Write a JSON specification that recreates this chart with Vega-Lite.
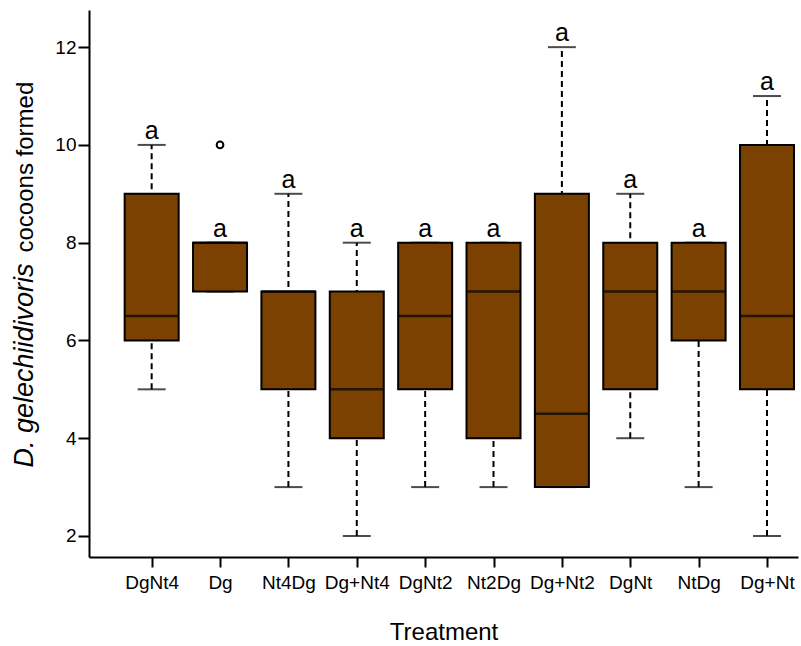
{
  "$schema": "https://vega.github.io/schema/vega-lite/v6.json",
  "autosize": {"type": "none"},
  "width": 709,
  "height": 547,
  "padding": {"left": 89, "top": 10, "right": 3, "bottom": 89},
  "background": "white",
  "config": {
    "view": {"stroke": null},
    "font": "Liberation Sans",
    "axis": {
      "grid": false,
      "domainColor": "black",
      "domainWidth": 2,
      "tickColor": "black",
      "tickWidth": 2,
      "labelColor": "black",
      "labelFont": "Liberation Sans",
      "titleFont": "Liberation Sans",
      "titleColor": "black",
      "titleFontWeight": "normal"
    }
  },
  "datasets": {
    "stats": [
      {"treatment": "DgNt4", "min": 5, "q1": 6, "median": 6.5, "q3": 9, "max": 10, "label": "a"},
      {"treatment": "Dg", "min": 7, "q1": 7, "median": 8, "q3": 8, "max": 8, "label": "a"},
      {"treatment": "Nt4Dg", "min": 3, "q1": 5, "median": 7, "q3": 7, "max": 9, "label": "a"},
      {"treatment": "Dg+Nt4", "min": 2, "q1": 4, "median": 5, "q3": 7, "max": 8, "label": "a"},
      {"treatment": "DgNt2", "min": 3, "q1": 5, "median": 6.5, "q3": 8, "max": 8, "label": "a"},
      {"treatment": "Nt2Dg", "min": 3, "q1": 4, "median": 7, "q3": 8, "max": 8, "label": "a"},
      {"treatment": "Dg+Nt2", "min": 3, "q1": 3, "median": 4.5, "q3": 9, "max": 12, "label": "a"},
      {"treatment": "DgNt", "min": 4, "q1": 5, "median": 7, "q3": 8, "max": 9, "label": "a"},
      {"treatment": "NtDg", "min": 3, "q1": 6, "median": 7, "q3": 8, "max": 8, "label": "a"},
      {"treatment": "Dg+Nt", "min": 2, "q1": 5, "median": 6.5, "q3": 10, "max": 11, "label": "a"}
    ],
    "outliers": [
      {"treatment": "Dg", "value": 10}
    ]
  },
  "encoding": {
    "x": {
      "field": "treatment",
      "type": "nominal",
      "sort": ["DgNt4", "Dg", "Nt4Dg", "Dg+Nt4", "DgNt2", "Nt2Dg", "Dg+Nt2", "DgNt", "NtDg", "Dg+Nt"],
      "scale": {"type": "point", "padding": 0.685, "align": 0.669},
      "axis": {
        "title": "Treatment",
        "titleFontSize": 24,
        "titlePadding": 28,
        "labelFontSize": 19,
        "labelAngle": 0,
        "labelPadding": 6,
        "labelOverlap": false,
        "labelFlush": false,
        "tickSize": 10
      }
    }
  },
  "layer": [
    {
      "data": {"name": "stats"},
      "mark": {"type": "rule", "color": "black", "strokeWidth": 2, "strokeDash": [6, 4]},
      "encoding": {
        "y": {
          "field": "min",
          "type": "quantitative",
          "scale": {"domain": [1.57, 12.76], "nice": false, "zero": false},
          "axis": {
            "orient": "left",
            "values": [2, 4, 6, 8, 10, 12],
            "labelFontSize": 19,
            "labelPadding": 2,
            "tickSize": 11,
            "title": "cocoons formed",
            "titleFontSize": 24,
            "titleAngle": 270,
            "titleAlign": "left",
            "titleBaseline": "alphabetic",
            "titleX": -57,
            "titleY": 242
          }
        },
        "y2": {"field": "max"}
      }
    },
    {
      "data": {"name": "stats"},
      "mark": {"type": "tick", "color": "black", "size": 28, "thickness": 2, "orient": "horizontal"},
      "encoding": {
        "y": {"field": "max", "type": "quantitative", "axis": null}
      }
    },
    {
      "data": {"name": "stats"},
      "mark": {"type": "tick", "color": "black", "size": 28, "thickness": 2, "orient": "horizontal"},
      "encoding": {
        "y": {"field": "min", "type": "quantitative", "axis": null}
      }
    },
    {
      "data": {"name": "stats"},
      "mark": {"type": "bar", "size": 54, "fill": "#7A4100", "stroke": "black", "strokeWidth": 2},
      "encoding": {
        "y": {"field": "q1", "type": "quantitative", "axis": null},
        "y2": {"field": "q3"}
      }
    },
    {
      "data": {"name": "stats"},
      "mark": {"type": "tick", "color": "black", "size": 54, "thickness": 2.5, "orient": "horizontal"},
      "encoding": {
        "y": {"field": "median", "type": "quantitative", "axis": null}
      }
    },
    {
      "data": {"name": "outliers"},
      "mark": {"type": "point", "shape": "circle", "filled": false, "color": "black", "strokeWidth": 2, "size": 45, "opacity": 1},
      "encoding": {
        "y": {"field": "value", "type": "quantitative", "axis": null}
      }
    },
    {
      "data": {"name": "stats"},
      "mark": {"type": "text", "color": "black", "fontSize": 25, "baseline": "alphabetic", "dy": -6, "font": "Liberation Sans"},
      "encoding": {
        "y": {
          "field": "max",
          "type": "quantitative",
          "axis": {
            "orient": "left",
            "domain": false,
            "ticks": false,
            "labels": false,
            "title": "D. gelechiidivoris",
            "titleFontSize": 27,
            "titleFontStyle": "italic",
            "titleAngle": 270,
            "titleAlign": "left",
            "titleBaseline": "alphabetic",
            "titleX": -57,
            "titleY": 457
          }
        },
        "text": {"field": "label"}
      }
    }
  ],
  "resolve": {"axis": {"y": "independent"}}
}
